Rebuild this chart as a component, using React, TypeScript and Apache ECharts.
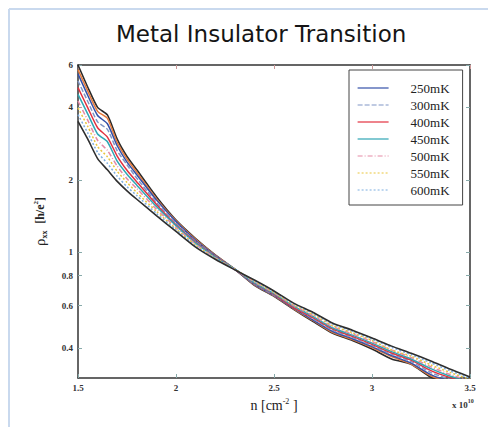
import React, { useEffect, useRef } from "react";
import * as echarts from "echarts";

// carrier density n (x 10^10 cm^-2)
const densities = [1.5, 1.55, 1.6, 1.65, 1.7, 1.75, 1.8, 1.9, 2.0, 2.1, 2.2, 2.3, 2.4, 2.5, 2.6, 2.7, 2.8, 2.9, 3.0, 3.1, 3.2, 3.3, 3.4, 3.5];

// rho_xx [h/e^2] curves
const edgeUpper = [6.0, 4.85, 4.0, 3.72, 2.95, 2.5, 2.2, 1.7, 1.36, 1.14, 0.975, 0.85, 0.728, 0.655, 0.579, 0.515, 0.46, 0.43, 0.396, 0.36, 0.342, 0.302, 0.285, 0.275];
const edgeOrange = [5.74, 4.67, 3.85, 3.6, 2.86, 2.44, 2.15, 1.67, 1.35, 1.13, 0.972, 0.851, 0.731, 0.658, 0.582, 0.519, 0.463, 0.433, 0.401, 0.368, 0.343, 0.306, 0.288, 0.277];
const rho250 = [5.51, 4.48, 3.7, 3.42, 2.77, 2.37, 2.1, 1.65, 1.34, 1.12, 0.968, 0.848, 0.735, 0.661, 0.585, 0.522, 0.468, 0.437, 0.405, 0.372, 0.346, 0.31, 0.291, 0.279];
const rho300 = [5.15, 4.23, 3.48, 3.24, 2.64, 2.31, 2.03, 1.61, 1.32, 1.11, 0.964, 0.852, 0.738, 0.664, 0.589, 0.528, 0.473, 0.442, 0.409, 0.376, 0.351, 0.316, 0.296, 0.282];
const rho400 = [4.83, 3.98, 3.29, 3.01, 2.51, 2.19, 1.96, 1.58, 1.3, 1.1, 0.959, 0.849, 0.743, 0.668, 0.588, 0.533, 0.479, 0.447, 0.414, 0.381, 0.356, 0.322, 0.301, 0.286];
const rho450 = [4.53, 3.75, 3.1, 2.88, 2.39, 2.11, 1.9, 1.55, 1.29, 1.09, 0.955, 0.851, 0.746, 0.673, 0.597, 0.54, 0.484, 0.452, 0.419, 0.386, 0.36, 0.328, 0.305, 0.289];
const rho500 = [4.25, 3.53, 2.92, 2.65, 2.28, 2.02, 1.84, 1.51, 1.27, 1.08, 0.948, 0.847, 0.752, 0.678, 0.601, 0.545, 0.49, 0.458, 0.425, 0.392, 0.365, 0.334, 0.31, 0.292];
const rho550 = [3.98, 3.33, 2.75, 2.49, 2.17, 1.95, 1.77, 1.48, 1.25, 1.07, 0.944, 0.85, 0.757, 0.681, 0.605, 0.551, 0.495, 0.463, 0.43, 0.392, 0.37, 0.34, 0.316, 0.296];
const rho600 = [3.73, 3.13, 2.6, 2.34, 2.07, 1.87, 1.72, 1.45, 1.24, 1.06, 0.94, 0.848, 0.76, 0.686, 0.61, 0.556, 0.501, 0.469, 0.435, 0.402, 0.375, 0.347, 0.321, 0.299];
const edgeLower = [3.5, 2.95, 2.45, 2.2, 1.97, 1.8, 1.66, 1.42, 1.22, 1.05, 0.935, 0.845, 0.766, 0.69, 0.614, 0.562, 0.507, 0.474, 0.44, 0.407, 0.38, 0.353, 0.326, 0.303];

const legendNames = ["250mK", "300mK", "400mK", "450mK", "500mK", "550mK", "600mK"];
const xTicks = [1.5, 2, 2.5, 3, 3.5];
const yTicks = [0.4, 0.6, 0.8, 1, 2, 4, 6];

const pairs = (ys: number[]) => densities.map((x, i) => [x, ys[i]]);

export default function App() {
  const ref = useRef<HTMLDivElement>(null);
  useEffect(() => {
    if (!ref.current) return;
    const chart = echarts.init(ref.current, null, { renderer: "svg" });
    const serif = "'Liberation Serif', 'DejaVu Serif', serif";
    const axisColor = "#333";
    const mk = (name: string, ys: number[], color: string, type: any, width = 1.5) => ({
      name,
      type: "line",
      data: pairs(ys),
      showSymbol: false,
      symbol: "none",
      smooth: 0.2,
      clip: true,
      lineStyle: { color, width, type },
      itemStyle: { color },
      z: 3,
    });
    chart.setOption({
      animation: false,
      backgroundColor: "#fff",
      title: {
        text: "Metal Insulator Transition",
        left: 111,
        top: 17,
        textStyle: { fontFamily: "'DejaVu Sans', sans-serif", fontSize: 23, fontWeight: "normal", color: "#151515" },
      },
      legend: {
        data: legendNames,
        orient: "vertical",
        left: 349,
        top: 70,
        padding: [11, 13, 8, 8],
        itemWidth: 31,
        itemHeight: 14,
        itemGap: 3,
        backgroundColor: "#fff",
        borderColor: "#444",
        borderWidth: 1,
        itemStyle: { opacity: 0 },
        lineStyle: { width: 1.2 },
        textStyle: { fontFamily: serif, fontSize: 13, color: "#222", padding: [0, 0, 0, 17], lineHeight: 14 },
      },
      grid: { left: 78, top: 65, right: 18, bottom: 49, containLabel: false },
      xAxis: [
        {
          type: "value",
          min: 1.5,
          max: 3.5,
          interval: 0.5,
          name: "n [cm{sup|-2} ]",
          nameLocation: "middle",
          nameGap: 19,
          nameTextStyle: {
            fontFamily: serif,
            fontSize: 14,
            color: "#222",
            rich: { sup: { fontFamily: serif, fontSize: 8, color: "#222", padding: [0, 0, 8, 0] } },
          },
          axisLine: { show: true, lineStyle: { color: axisColor, width: 1.5 } },
          axisTick: { show: true, inside: true, length: 4, lineStyle: { color: "#8aa" } },
          axisLabel: {
            fontFamily: serif,
            fontWeight: "bold",
            fontSize: 9,
            color: "#333",
            margin: 5,
            customValues: xTicks,
            formatter: (v: number) => String(v),
          },
          splitLine: { show: false },
        },
        {
          type: "value",
          position: "top",
          min: 1.5,
          max: 3.5,
          interval: 0.5,
          axisLine: { show: true, lineStyle: { color: axisColor, width: 1.5 } },
          axisTick: { show: true, inside: true, length: 4, lineStyle: { color: "#c99" } },
          axisLabel: { show: false },
          splitLine: { show: false },
        },
      ],
      yAxis: [
        {
          type: "log",
          logBase: 10,
          min: 0.3,
          max: 6,
          name: "{r|ρ}{s|xx}  {n|[h/e}{p|2}{n|]}",
          nameLocation: "middle",
          nameRotate: 90,
          nameGap: 30,
          nameTextStyle: {
            rich: {
              r: { fontFamily: serif, fontSize: 15, color: "#222" },
              s: { fontFamily: serif, fontSize: 8, fontWeight: "bold", color: "#222", padding: [8, 0, 0, 0] },
              n: { fontFamily: serif, fontSize: 12, fontWeight: "bold", color: "#222" },
              p: { fontFamily: serif, fontSize: 7, fontWeight: "bold", color: "#222", padding: [0, 0, 8, 0] },
            },
          },
          axisLine: { show: true, lineStyle: { color: axisColor, width: 1.5 } },
          axisTick: { show: true, inside: true, length: 4, customValues: yTicks, lineStyle: { color: "#8aa" } },
          axisLabel: {
            fontFamily: serif,
            fontWeight: "bold",
            fontSize: 9,
            color: "#333",
            margin: 5,
            customValues: yTicks,
            formatter: (v: number) => String(v),
          },
          splitLine: { show: false },
          minorTick: { show: false },
        },
        {
          type: "log",
          logBase: 10,
          position: "right",
          min: 0.3,
          max: 6,
          axisLine: { show: true, lineStyle: { color: axisColor, width: 1.5 } },
          axisTick: { show: true, inside: true, length: 4, customValues: yTicks, lineStyle: { color: "#8aa" } },
          axisLabel: { show: false },
          splitLine: { show: false },
        },
      ],
      series: [
        mk("edgeUpper", edgeUpper, "#2b2b2b", "solid", 1.6),
        mk("edgeOrange", edgeOrange, "#e57a3c", "solid"),
        mk("250mK", rho250, "#3350a8", "solid"),
        mk("300mK", rho300, "#8096c6", [5, 2]),
        mk("400mK", rho400, "#e2303f", "solid"),
        mk("450mK", rho450, "#2fa6b4", "solid"),
        mk("500mK", rho500, "#e58aa6", [5, 2, 1, 2]),
        mk("550mK", rho550, "#e9c53c", [2, 2]),
        mk("600mK", rho600, "#7daee0", [2, 2]),
        mk("edgeLower", edgeLower, "#2e2e2e", "solid", 1.6),
      ],
      graphic: [
        { type: "line", shape: { x1: 9, y1: 9, x2: 9, y2: 427 }, style: { stroke: "#c9d9ee", lineWidth: 2 } },
        { type: "line", shape: { x1: 9, y1: 9, x2: 488, y2: 9 }, style: { stroke: "#c9d9ee", lineWidth: 2 } },
        {
          type: "text",
          x: 452,
          y: 398,
          style: {
            text: "{a|x 10}{b|10}",
            rich: {
              a: { fontFamily: serif, fontSize: 9, fontWeight: "bold", fill: "#333" },
              b: { fontFamily: serif, fontSize: 6, fontWeight: "bold", fill: "#333", padding: [0, 0, 7, 0] },
            },
          },
        },
      ],
    });
    return () => chart.dispose();
  }, []);
  return <div ref={ref} style={{ position: "fixed", left: 0, top: 0, width: 488, height: 427 }} />;
}
